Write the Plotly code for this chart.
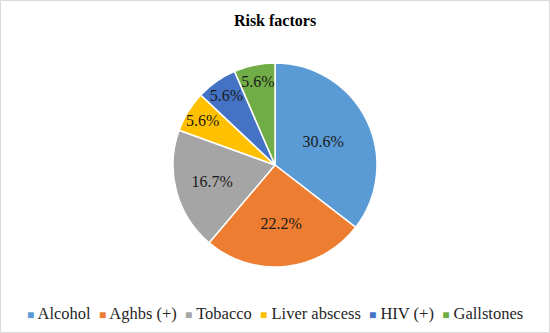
import plotly.graph_objects as go

categories = ["Alcohol", "Aghbs (+)", "Tobacco", "Liver abscess", "HIV (+)", "Gallstones"]
percent_values = [30.6, 22.2, 16.7, 5.6, 5.6, 5.6]
colors = ["#5B9BD5", "#ED7D31", "#A5A5A5", "#FFC000", "#4472C4", "#70AD47"]

W, H = 550, 333
top, bottom = 63, 66
plot_h = H - top - bottom
SERIF = "Liberation Serif, Times New Roman, serif"

fig = go.Figure(go.Pie(
    labels=categories,
    values=percent_values,
    text=[f"{v:.1f}%" for v in percent_values],
    textinfo="text",
    textposition="inside",
    insidetextorientation="horizontal",
    sort=False,
    direction="clockwise",
    rotation=0,
    marker=dict(colors=colors, line=dict(color="white", width=1.5)),
    textfont=dict(family=SERIF, size=16, color="#1a1a1a"),
    showlegend=False,
    hoverinfo="label+text",
))

legend_html = "&nbsp;&nbsp;".join(
    f'<span style="color:{c};font-size:12px">■</span> {name}'
    for name, c in zip(categories, colors)
)
fig.add_annotation(
    x=0.5, xref="paper", xanchor="center",
    y=(plot_h - (313 - top)) / plot_h, yref="paper", yanchor="middle",
    text=legend_html, showarrow=False,
    font=dict(family=SERIF, size=16.5, color="#262626"),
)

fig.add_shape(
    type="rect", xref="paper", yref="paper",
    x0=0.5 / W, x1=1 - 0.5 / W,
    y0=-(bottom - 0.5) / plot_h, y1=1 + (top - 0.5) / plot_h,
    line=dict(color="#D9D9D9", width=1), fillcolor="rgba(0,0,0,0)",
)

fig.update_layout(
    width=W, height=H,
    margin=dict(l=0, r=0, t=top, b=bottom),
    paper_bgcolor="white", plot_bgcolor="white",
    title=dict(text="<b>Risk factors</b>", x=0.5, xanchor="center",
               y=1 - 20 / H, yanchor="middle", yref="container",
               font=dict(family=SERIF, size=16, color="black")),
    uniformtext=dict(minsize=16, mode="show"),
)

fig.write_html("out.html")
